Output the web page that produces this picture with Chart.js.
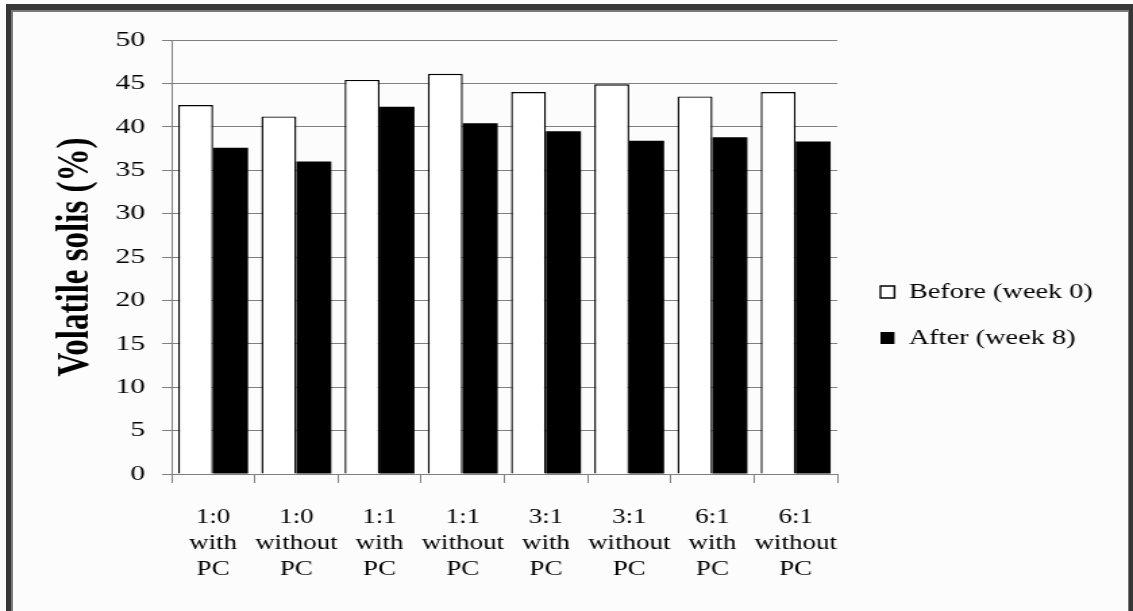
<!DOCTYPE html>
<html>
<head>
<meta charset="utf-8">
<script src="https://cdn.jsdelivr.net/npm/chart.js@4"></script>
<style>
  html, body { margin: 0; padding: 0; background: #fcfcfc; overflow: hidden; }
  body { width: 1133px; height: 611px; position: relative; }
  #frame {
    position: absolute; left: 6px; top: 4px; right: 0; height: 700px;
    border: solid #363636; border-width: 6px 4px 0 5px;
  }
  #frame::before {
    content: ''; position: absolute; left: 0; top: 0; right: 0; bottom: 0;
    border: solid #7a7a7a; border-width: 2px 1px 0 2px;
  }
  #chart { position: absolute; left: 0; top: 0; }
</style>
</head>
<body>
<div id="frame"></div>
<!-- the source picture is stretched sideways, so the canvas is too -->
<canvas id="chart" width="839" height="611" style="width:1133px;height:611px"></canvas>
<script>
const categories = [
    ['1:0', 'with', 'PC'],
    ['1:0', 'without', 'PC'],
    ['1:1', 'with', 'PC'],
    ['1:1', 'without', 'PC'],
    ['3:1', 'with', 'PC'],
    ['3:1', 'without', 'PC'],
    ['6:1', 'with', 'PC'],
    ['6:1', 'without', 'PC']
];
const beforeWeek0 = [42.5, 41.2, 45.4, 46.1, 44.0, 44.9, 43.5, 44.0];
const afterWeek8 = [37.6, 36.0, 42.3, 40.4, 39.5, 38.4, 38.8, 38.3];
const seriesNames = ['Before (week 0)', 'After (week 8)'];
const yTitle = 'Volatile solis (%)';

const serif = "'Liberation Serif', 'Times New Roman', serif";
const gray = '#808080';

// push the legend a little away from the plot, like the original
const legendNudge = {
    id: 'legendNudge',
    afterLayout(chart) {
        chart.legend.left += 7;
        chart.legend.right += 7;
    }
};

new Chart(document.getElementById('chart'), {
    type: 'bar',
    data: {
        labels: categories,
        datasets: [
            {
                label: seriesNames[0],
                data: beforeWeek0,
                backgroundColor: '#ffffff',
                borderColor: '#000000',
                borderWidth: 1.4
            },
            {
                label: seriesNames[1],
                data: afterWeek8,
                backgroundColor: '#000000',
                borderWidth: 0
            }
        ]
    },
    options: {
        responsive: false,
        animation: false,
        devicePixelRatio: 1,
        layout: {padding: {top: 40, left: 0, right: 34, bottom: 21}},
        datasets: {bar: {categoryPercentage: 0.84, barPercentage: 1}},
        scales: {
            x: {
                grid: {drawOnChartArea: false, color: gray, tickLength: 9},
                border: {color: gray},
                ticks: {
                    color: '#000',
                    padding: 21.5,
                    autoSkip: false,
                    maxRotation: 0,
                    font: {family: serif, size: 20, lineHeight: 1.3}
                },
                afterFit(scale) { scale.height = 116; }
            },
            y: {
                min: 0,
                max: 50,
                grid: {color: gray, tickLength: 7},
                border: {color: gray},
                ticks: {
                    stepSize: 5,
                    color: '#000',
                    padding: 12.6,
                    font: {family: serif, size: 22}
                },
                title: {
                    display: true,
                    text: yTitle,
                    color: '#000',
                    padding: {top: 37, bottom: 0},
                    font: {family: serif, size: 33, weight: 'bold'}
                },
                afterFit(scale) { scale.width = 127; }
            }
        },
        plugins: {
            tooltip: {enabled: false},
            legend: {
                position: 'right',
                maxWidth: 185,
                labels: {
                    color: '#000',
                    boxWidth: 10.4,
                    boxHeight: 12,
                    padding: 25,
                    font: {family: serif, size: 21}
                }
            }
        }
    },
    plugins: [legendNudge]
});
</script>
</body>
</html>
